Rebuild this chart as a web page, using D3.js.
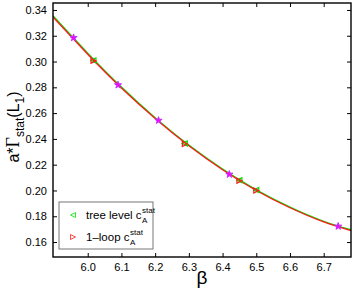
<!DOCTYPE html>
<html>
<head>
<meta charset="utf-8">
<script src="https://cdn.jsdelivr.net/npm/d3@7"></script>
<style>
  body { margin: 0; background: #fff; }
  text { font-family: "Liberation Sans", Arial, sans-serif; }
</style>
</head>
<body>
<div id="root"></div>
<script>
const width = 354;
const height = 289;
const margin = { top: 3, right: 3, bottom: 32, left: 53 };

// curve samples
const curveBeta = [5.897, 6.0, 6.1, 6.2, 6.3, 6.4, 6.5, 6.6, 6.7, 6.781];
const treeCurve = [0.3355, 0.3065, 0.2802, 0.2565, 0.2352, 0.2166, 0.2005, 0.1871, 0.1761, 0.1695];
const loopCurve = [0.3345, 0.3057, 0.2795, 0.2559, 0.2347, 0.2161, 0.2000, 0.1866, 0.1756, 0.1689];

// simulation points
const pointBeta = [6.017, 6.288, 6.45, 6.5];
const treePoints = [0.3009, 0.2365, 0.2080, 0.2004];
const loopPoints = [0.3005, 0.2361, 0.2076, 0.2000];

// magenta points
const starBeta = [5.958, 6.09, 6.21, 6.42, 6.743];
const starValues = [0.3185, 0.2818, 0.2543, 0.2125, 0.1722];

const xTicks = [6.0, 6.1, 6.2, 6.3, 6.4, 6.5, 6.6, 6.7];
const yTicks = [0.16, 0.18, 0.20, 0.22, 0.24, 0.26, 0.28, 0.30, 0.32, 0.34];

const svg = d3.select("#root")
  .append("svg")
  .attr("width", width)
  .attr("height", height);

const x = d3.scaleLinear()
  .domain([5.897, 6.781])
  .range([margin.left, width - margin.right]);
const y = d3.scaleLinear()
  .domain([0.1484, 0.3454])
  .range([height - margin.bottom, margin.top]);

svg.append("clipPath").attr("id", "clip")
  .append("rect")
  .attr("x", margin.left)
  .attr("y", margin.top)
  .attr("width", width - margin.left - margin.right)
  .attr("height", height - margin.top - margin.bottom);

// curves
const line = d3.line()
  .x((d) => x(d[0]))
  .y((d) => y(d[1]))
  .curve(d3.curveNatural);

const plot = svg.append("g").attr("clip-path", "url(#clip)");

plot.append("path")
  .datum(curveBeta.map((b, i) => [b, treeCurve[i]]))
  .attr("d", line)
  .attr("fill", "none")
  .attr("stroke", "#00e000")
  .attr("stroke-width", 1.3);

plot.append("path")
  .datum(curveBeta.map((b, i) => [b, loopCurve[i]]))
  .attr("d", line)
  .attr("fill", "none")
  .attr("stroke", "#ff1a1a")
  .attr("stroke-width", 1.3);

// triangles
function triangle(dir, s) {
  // dir = -1 points left, 1 points right
  return `M${dir * s},0L${-dir * s},${-s}L${-dir * s},${s}Z`;
}

plot.selectAll(".tree")
  .data(pointBeta.map((b, i) => [b, treePoints[i]]))
  .enter()
  .append("path")
  .attr("class", "tree")
  .attr("transform", (d) => `translate(${x(d[0])},${y(d[1])})`)
  .attr("d", triangle(-1, 2.5))
  .attr("fill", "none")
  .attr("stroke", "#00e000")
  .attr("stroke-width", 1.2);

plot.selectAll(".loop")
  .data(pointBeta.map((b, i) => [b, loopPoints[i]]))
  .enter()
  .append("path")
  .attr("class", "loop")
  .attr("transform", (d) => `translate(${x(d[0])},${y(d[1])})`)
  .attr("d", triangle(1, 2.5))
  .attr("fill", "none")
  .attr("stroke", "#ff1a1a")
  .attr("stroke-width", 1.2);

plot.selectAll(".star")
  .data(starBeta.map((b, i) => [b, starValues[i]]))
  .enter()
  .append("path")
  .attr("class", "star")
  .attr("transform", (d) => `translate(${x(d[0])},${y(d[1])})`)
  .attr("d", d3.symbol().type(d3.symbolStar).size(16))
  .attr("fill", "#ff00ff")
  .attr("stroke", "#c030ff")
  .attr("stroke-width", 1);

// axes with inward ticks, mirrored on top/right
const bottom = height - margin.bottom;
const right = width - margin.right;

svg.append("g")
  .attr("transform", `translate(0,${bottom})`)
  .call(d3.axisBottom(x).tickValues(xTicks).tickFormat(d3.format(".1f")).tickSizeInner(-4).tickSizeOuter(0).tickPadding(6))
  .call((g) => g.select(".domain").remove());
svg.append("g")
  .attr("transform", `translate(0,${margin.top})`)
  .call(d3.axisTop(x).tickValues(xTicks).tickFormat("").tickSizeInner(-4).tickSizeOuter(0))
  .call((g) => g.select(".domain").remove());
svg.append("g")
  .attr("transform", `translate(${margin.left},0)`)
  .call(d3.axisLeft(y).tickValues(yTicks).tickFormat(d3.format(".2f")).tickSizeInner(-4).tickSizeOuter(0).tickPadding(6))
  .call((g) => g.select(".domain").remove());
svg.append("g")
  .attr("transform", `translate(${right},0)`)
  .call(d3.axisRight(y).tickValues(yTicks).tickFormat("").tickSizeInner(-4).tickSizeOuter(0))
  .call((g) => g.select(".domain").remove());

svg.selectAll(".tick text")
  .attr("font-size", 11)
  .attr("fill", "#000");
svg.selectAll(".tick line")
  .attr("stroke", "#000");

svg.append("rect")
  .attr("x", margin.left)
  .attr("y", margin.top)
  .attr("width", right - margin.left)
  .attr("height", bottom - margin.top)
  .attr("fill", "none")
  .attr("stroke", "#000")
  .attr("stroke-width", 1.4);

// axis labels
svg.append("text")
  .attr("x", (margin.left + right) / 2)
  .attr("y", 284)
  .attr("text-anchor", "middle")
  .attr("font-size", 19)
  .attr("font-family", "DejaVu Serif, serif")
  .text("β");

const ylab = svg.append("text")
  .attr("transform", "translate(19,127) rotate(-90)")
  .attr("text-anchor", "middle")
  .attr("font-size", 16);
ylab.append("tspan").text("a*");
ylab.append("tspan").attr("font-family", "Liberation Serif, serif").attr("font-size", 18).text("Γ");
ylab.append("tspan").attr("font-size", 12).attr("dy", 5).text("stat");
ylab.append("tspan").attr("dy", -5).text("(L");
ylab.append("tspan").attr("font-size", 12).attr("dy", 5).text("1");
ylab.append("tspan").attr("dy", -5).text(")");

// legend
const legend = svg.append("g");
legend.append("rect")
  .attr("x", 59)
  .attr("y", 202)
  .attr("width", 94)
  .attr("height", 47)
  .attr("fill", "#fff")
  .attr("stroke", "#777")
  .attr("stroke-width", 1);

const legendItems = [
  { label: "tree level c", color: "#00e000", dir: -1 },
  { label: "1\u2013loop c", color: "#ff1a1a", dir: 1 },
];
legendItems.forEach((item, i) => {
  const ly = 215 + i * 22;
  legend.append("path")
    .attr("transform", `translate(73,${ly})`)
    .attr("d", triangle(item.dir, 2.5))
    .attr("fill", "none")
    .attr("stroke", item.color)
    .attr("stroke-width", 0.8);
  const t = legend.append("text")
    .attr("x", 86)
    .attr("y", ly + 4)
    .attr("font-size", 11.5);
  t.append("tspan").text(item.label);
  const bx = 86 + (i === 0 ? 56 : 44);
  legend.append("text")
    .attr("x", bx)
    .attr("y", ly - 2)
    .attr("font-size", 8)
    .text("stat");
  legend.append("text")
    .attr("x", bx)
    .attr("y", ly + 8)
    .attr("font-size", 8)
    .text("A");
});
</script>
</body>
</html>
